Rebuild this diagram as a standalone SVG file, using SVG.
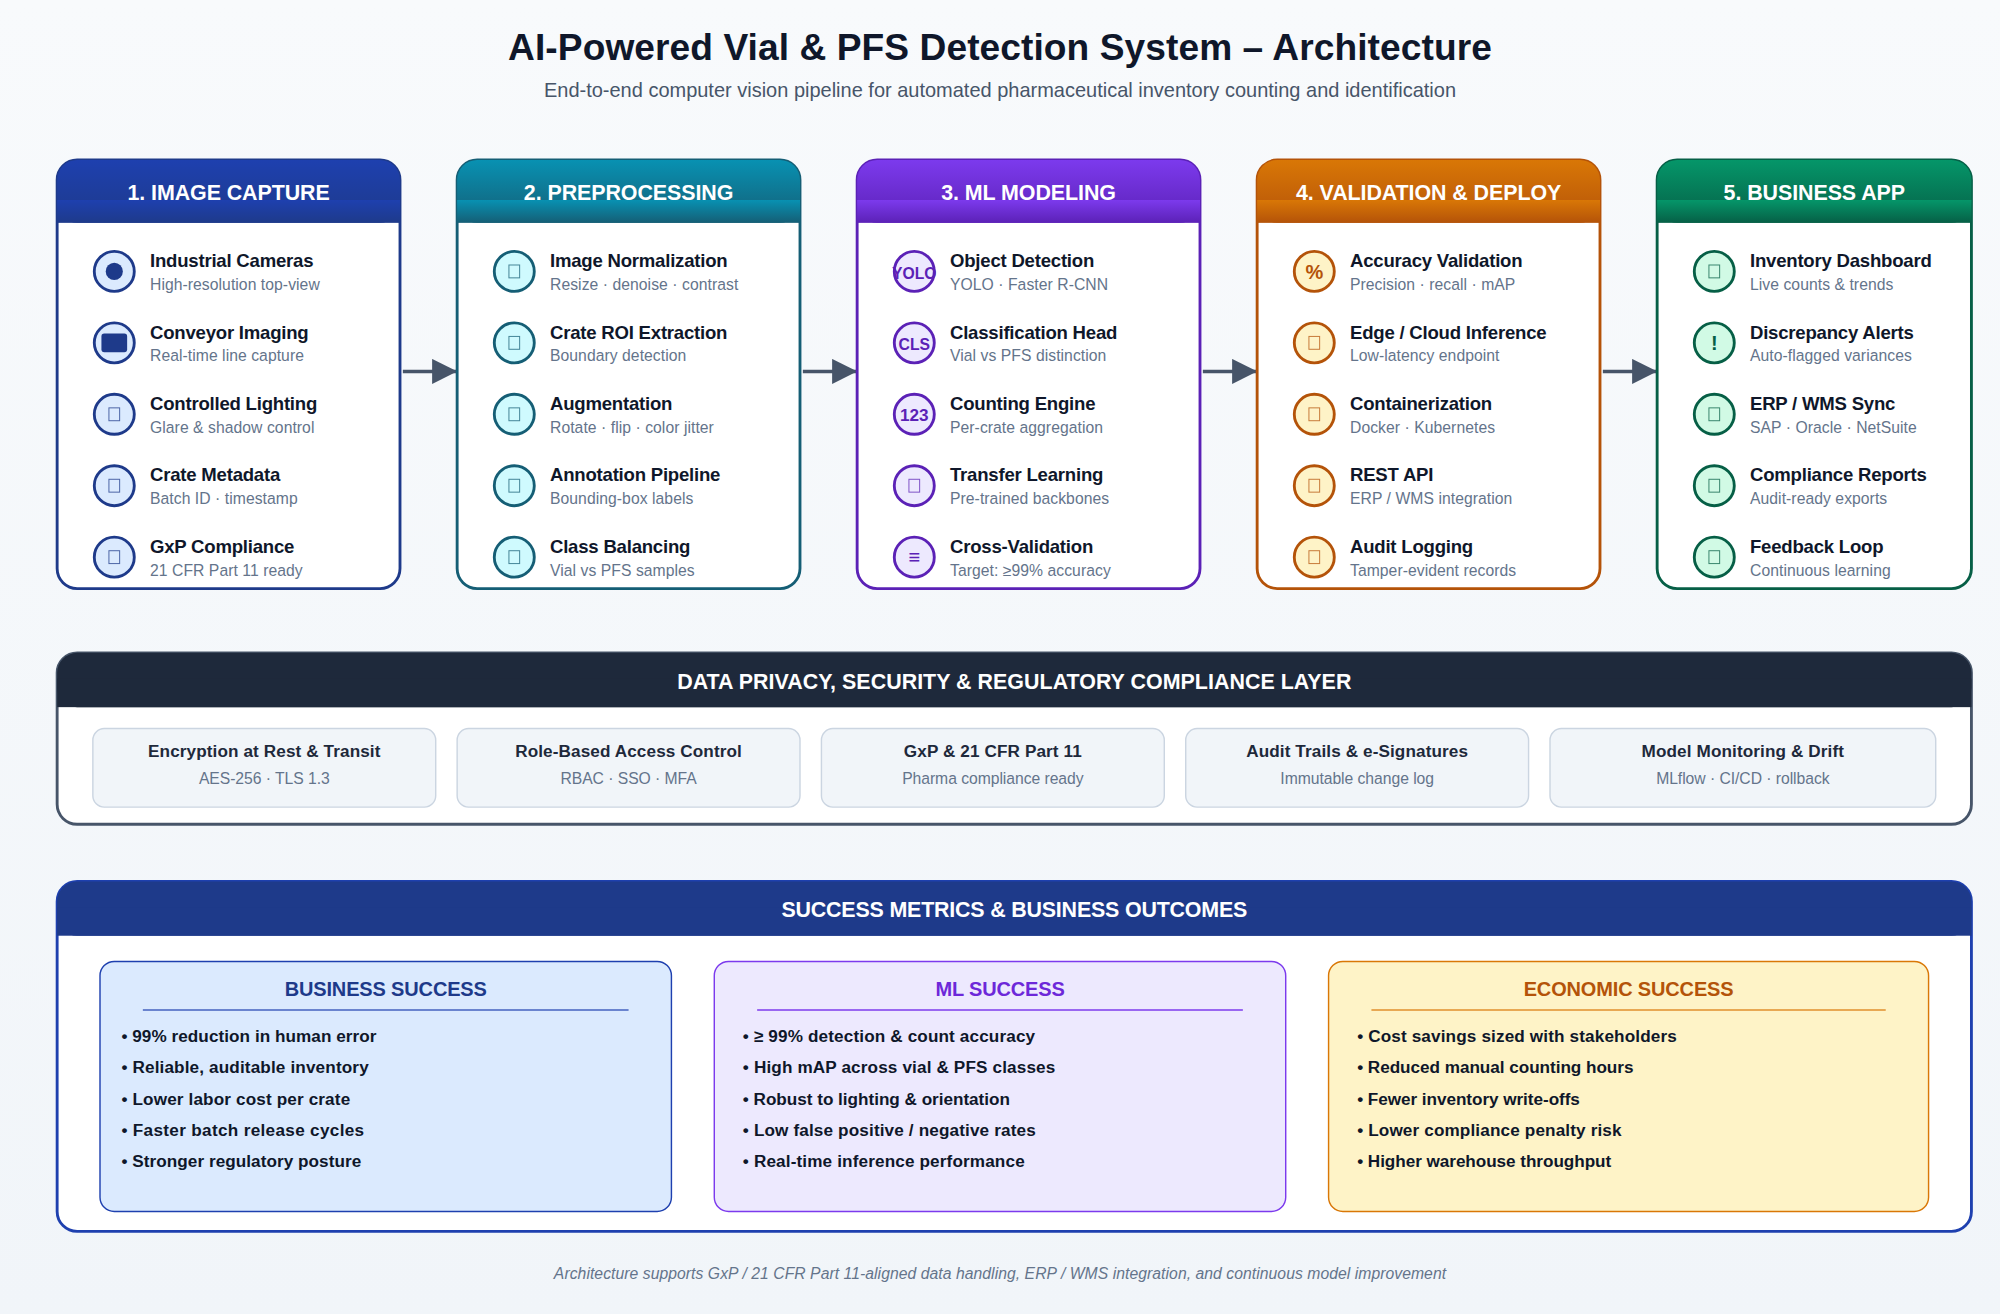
<svg xmlns="http://www.w3.org/2000/svg" width="2000" height="1314" viewBox="0 0 2000 1314">
<style>
text{font-family:"Liberation Sans",Arial,sans-serif}
.t{font-size:26px;letter-spacing:.05px;font-weight:700;fill:#0f172a;text-anchor:middle}
.st{font-size:14px;fill:#475569;text-anchor:middle}
.h{font-size:15px;letter-spacing:-.05px;font-weight:700;fill:#fff;text-anchor:middle}
.n{font-size:13px;letter-spacing:-.15px;font-weight:700;fill:#0f172a}
.d{font-size:11px;letter-spacing:.04px;fill:#64748b}
.i{font-size:14px;text-anchor:middle}
.b{font-weight:700}
.bar{font-size:15px;letter-spacing:.02px;font-weight:700;fill:#fff;text-anchor:middle}
.pn{font-size:12px;letter-spacing:.08px;font-weight:700;fill:#1e293b;text-anchor:middle}
.pd{font-size:11px;letter-spacing:-.03px;fill:#64748b;text-anchor:middle}
.pb{fill:#f1f5f9;stroke:#cbd5e1;stroke-width:1}
.mt{font-size:14px;letter-spacing:-.1px;font-weight:700;text-anchor:middle}
.ml{font-size:12px;letter-spacing:.1px;font-weight:700;fill:#0f172a}
.foot{font-size:11px;letter-spacing:.04px;font-style:italic;fill:#64748b;text-anchor:middle}
.tofu{fill:none;stroke-width:.7;opacity:.75}
.blue circle{fill:#dbeafe;stroke:#1e3a8a;stroke-width:2}.blue .i{fill:#1e3a8a}.blue .card,.blue .tofu{stroke:#1e3a8a}
.teal circle{fill:#cffafe;stroke:#155e75;stroke-width:2}.teal .i{fill:#155e75}.teal .card,.teal .tofu{stroke:#155e75}
.purple circle{fill:#ede9fe;stroke:#5b21b6;stroke-width:2}.purple .i{fill:#5b21b6}.purple .card,.purple .tofu{stroke:#5b21b6}
.amber circle{fill:#fef3c7;stroke:#b45309;stroke-width:2}.amber .i{fill:#b45309}.amber .card,.amber .tofu{stroke:#b45309}
.green circle{fill:#d1fae5;stroke:#065f46;stroke-width:2}.green .i{fill:#065f46}.green .card,.green .tofu{stroke:#065f46}
.card{fill:#fff;stroke-width:2}
.conn{stroke:#475569;stroke-width:2.5;fill:none;marker-end:url(#arr)}
</style>
<defs>
<linearGradient id="bg" x1="0" y1="0" x2="0" y2="1"><stop offset="0" stop-color="#f8fafc"/><stop offset="1" stop-color="#f1f5f9"/></linearGradient>
<linearGradient id="g1" x1="0" y1="0" x2="0" y2="1"><stop offset="0" stop-color="#1e40af"/><stop offset="1" stop-color="#1e3a8a"/></linearGradient>
<linearGradient id="g2" x1="0" y1="0" x2="0" y2="1"><stop offset="0" stop-color="#0891b2"/><stop offset="1" stop-color="#155e75"/></linearGradient>
<linearGradient id="g3" x1="0" y1="0" x2="0" y2="1"><stop offset="0" stop-color="#7c3aed"/><stop offset="1" stop-color="#5b21b6"/></linearGradient>
<linearGradient id="g4" x1="0" y1="0" x2="0" y2="1"><stop offset="0" stop-color="#d97706"/><stop offset="1" stop-color="#b45309"/></linearGradient>
<linearGradient id="g5" x1="0" y1="0" x2="0" y2="1"><stop offset="0" stop-color="#059669"/><stop offset="1" stop-color="#065f46"/></linearGradient>
<marker id="arr" markerUnits="strokeWidth" markerWidth="7" markerHeight="7" refX="7" refY="3.5" orient="auto"><path d="M0 0L7 3.5L0 7Z" fill="#475569"/></marker>
</defs>
<rect width="2000" height="1314" fill="url(#bg)"/>
<g transform="scale(1.428571)">
<text class="t" x="700" y="42">AI-Powered Vial &amp; PFS Detection System – Architecture</text>
<text class="st" x="700" y="68">End-to-end computer vision pipeline for automated pharmaceutical inventory counting and identification</text>

<g id="connectors">
<line class="conn" x1="282" y1="260" x2="320" y2="260"/>
<line class="conn" x1="562" y1="260" x2="600" y2="260"/>
<line class="conn" x1="842" y1="260" x2="880" y2="260"/>
<line class="conn" x1="1122" y1="260" x2="1160" y2="260"/>
</g>

<g id="stage-1" class="blue">
<rect class="card" x="40" y="112" width="240" height="300" rx="14"/>
<rect x="40" y="112" width="240" height="44" rx="14" fill="url(#g1)"/>
<text class="h" x="160" y="140">1. IMAGE CAPTURE</text>
<rect x="40" y="140" width="240" height="16" fill="url(#g1)"/>
<circle cx="80" cy="190" r="14"/><circle cx="80" cy="190" r="6" style="fill:#1e3a8a;stroke:none"/>
<text class="n" x="105" y="187">Industrial Cameras</text><text class="d" x="105" y="203">High-resolution top-view</text>
<circle cx="80" cy="240" r="14"/><rect x="71" y="233.5" width="18" height="13" rx="2" fill="#1e3a8a"/>
<text class="n" x="105" y="237">Conveyor Imaging</text><text class="d" x="105" y="253">Real-time line capture</text>
<circle cx="80" cy="290" r="14"/><rect class="tofu" x="76.25" y="285.5" width="7.5" height="9"/>
<text class="n" x="105" y="287">Controlled Lighting</text><text class="d" x="105" y="303">Glare &amp; shadow control</text>
<circle cx="80" cy="340" r="14"/><rect class="tofu" x="76.25" y="335.5" width="7.5" height="9"/>
<text class="n" x="105" y="337">Crate Metadata</text><text class="d" x="105" y="353">Batch ID · timestamp</text>
<circle cx="80" cy="390" r="14"/><rect class="tofu" x="76.25" y="385.5" width="7.5" height="9"/>
<text class="n" x="105" y="387">GxP Compliance</text><text class="d" x="105" y="403">21 CFR Part 11 ready</text>
</g>

<g id="stage-2" class="teal">
<rect class="card" x="320" y="112" width="240" height="300" rx="14"/>
<rect x="320" y="112" width="240" height="44" rx="14" fill="url(#g2)"/>
<text class="h" x="440" y="140">2. PREPROCESSING</text>
<rect x="320" y="140" width="240" height="16" fill="url(#g2)"/>
<circle cx="360" cy="190" r="14"/><rect class="tofu" x="356.25" y="185.5" width="7.5" height="9"/>
<text class="n" x="385" y="187">Image Normalization</text><text class="d" x="385" y="203">Resize · denoise · contrast</text>
<circle cx="360" cy="240" r="14"/><rect class="tofu" x="356.25" y="235.5" width="7.5" height="9"/>
<text class="n" x="385" y="237">Crate ROI Extraction</text><text class="d" x="385" y="253">Boundary detection</text>
<circle cx="360" cy="290" r="14"/><rect class="tofu" x="356.25" y="285.5" width="7.5" height="9"/>
<text class="n" x="385" y="287">Augmentation</text><text class="d" x="385" y="303">Rotate · flip · color jitter</text>
<circle cx="360" cy="340" r="14"/><rect class="tofu" x="356.25" y="335.5" width="7.5" height="9"/>
<text class="n" x="385" y="337">Annotation Pipeline</text><text class="d" x="385" y="353">Bounding-box labels</text>
<circle cx="360" cy="390" r="14"/><rect class="tofu" x="356.25" y="385.5" width="7.5" height="9"/>
<text class="n" x="385" y="387">Class Balancing</text><text class="d" x="385" y="403">Vial vs PFS samples</text>
</g>

<g id="stage-3" class="purple">
<rect class="card" x="600" y="112" width="240" height="300" rx="14"/>
<rect x="600" y="112" width="240" height="44" rx="14" fill="url(#g3)"/>
<text class="h" x="720" y="140">3. ML MODELING</text>
<rect x="600" y="140" width="240" height="16" fill="url(#g3)"/>
<circle cx="640" cy="190" r="14"/><text class="i b" style="font-size:11px" x="640" y="195">YOLO</text>
<text class="n" x="665" y="187">Object Detection</text><text class="d" x="665" y="203">YOLO · Faster R-CNN</text>
<circle cx="640" cy="240" r="14"/><text class="i b" style="font-size:11px" x="640" y="245">CLS</text>
<text class="n" x="665" y="237">Classification Head</text><text class="d" x="665" y="253">Vial vs PFS distinction</text>
<circle cx="640" cy="290" r="14"/><text class="i b" style="font-size:12px" x="640" y="295">123</text>
<text class="n" x="665" y="287">Counting Engine</text><text class="d" x="665" y="303">Per-crate aggregation</text>
<circle cx="640" cy="340" r="14"/><rect class="tofu" x="636.25" y="335.5" width="7.5" height="9"/>
<text class="n" x="665" y="337">Transfer Learning</text><text class="d" x="665" y="353">Pre-trained backbones</text>
<circle cx="640" cy="390" r="14"/><text class="i b" x="640" y="395">≡</text>
<text class="n" x="665" y="387">Cross-Validation</text><text class="d" x="665" y="403">Target: ≥99% accuracy</text>
</g>

<g id="stage-4" class="amber">
<rect class="card" x="880" y="112" width="240" height="300" rx="14"/>
<rect x="880" y="112" width="240" height="44" rx="14" fill="url(#g4)"/>
<text class="h" x="1000" y="140">4. VALIDATION &amp; DEPLOY</text>
<rect x="880" y="140" width="240" height="16" fill="url(#g4)"/>
<circle cx="920" cy="190" r="14"/><text class="i b" x="920" y="195">%</text>
<text class="n" x="945" y="187">Accuracy Validation</text><text class="d" x="945" y="203">Precision · recall · mAP</text>
<circle cx="920" cy="240" r="14"/><rect class="tofu" x="916.25" y="235.5" width="7.5" height="9"/>
<text class="n" x="945" y="237">Edge / Cloud Inference</text><text class="d" x="945" y="253">Low-latency endpoint</text>
<circle cx="920" cy="290" r="14"/><rect class="tofu" x="916.25" y="285.5" width="7.5" height="9"/>
<text class="n" x="945" y="287">Containerization</text><text class="d" x="945" y="303">Docker · Kubernetes</text>
<circle cx="920" cy="340" r="14"/><rect class="tofu" x="916.25" y="335.5" width="7.5" height="9"/>
<text class="n" x="945" y="337">REST API</text><text class="d" x="945" y="353">ERP / WMS integration</text>
<circle cx="920" cy="390" r="14"/><rect class="tofu" x="916.25" y="385.5" width="7.5" height="9"/>
<text class="n" x="945" y="387">Audit Logging</text><text class="d" x="945" y="403">Tamper-evident records</text>
</g>

<g id="stage-5" class="green">
<rect class="card" x="1160" y="112" width="220" height="300" rx="14"/>
<rect x="1160" y="112" width="220" height="44" rx="14" fill="url(#g5)"/>
<text class="h" x="1270" y="140">5. BUSINESS APP</text>
<rect x="1160" y="140" width="220" height="16" fill="url(#g5)"/>
<circle cx="1200" cy="190" r="14"/><rect class="tofu" x="1196.25" y="185.5" width="7.5" height="9"/>
<text class="n" x="1225" y="187">Inventory Dashboard</text><text class="d" x="1225" y="203">Live counts &amp; trends</text>
<circle cx="1200" cy="240" r="14"/><text class="i b" x="1200" y="245">!</text>
<text class="n" x="1225" y="237">Discrepancy Alerts</text><text class="d" x="1225" y="253">Auto-flagged variances</text>
<circle cx="1200" cy="290" r="14"/><rect class="tofu" x="1196.25" y="285.5" width="7.5" height="9"/>
<text class="n" x="1225" y="287">ERP / WMS Sync</text><text class="d" x="1225" y="303">SAP · Oracle · NetSuite</text>
<circle cx="1200" cy="340" r="14"/><rect class="tofu" x="1196.25" y="335.5" width="7.5" height="9"/>
<text class="n" x="1225" y="337">Compliance Reports</text><text class="d" x="1225" y="353">Audit-ready exports</text>
<circle cx="1200" cy="390" r="14"/><rect class="tofu" x="1196.25" y="385.5" width="7.5" height="9"/>
<text class="n" x="1225" y="387">Feedback Loop</text><text class="d" x="1225" y="403">Continuous learning</text>
</g>

<g id="privacy-layer">
<rect x="40" y="457" width="1340" height="120" rx="14" fill="#fff" stroke="#475569" stroke-width="2"/>
<rect x="40" y="457" width="1340" height="38" rx="14" fill="#1e293b"/>
<rect x="40" y="475" width="1340" height="20" fill="#1e293b"/>
<text class="bar" x="710" y="482">DATA PRIVACY, SECURITY &amp; REGULATORY COMPLIANCE LAYER</text>
<g id="privacy-1"><rect class="pb" x="65" y="510" width="240" height="55" rx="8"/><text class="pn" x="185" y="530">Encryption at Rest &amp; Transit</text><text class="pd" x="185" y="549">AES-256 · TLS 1.3</text></g>
<g id="privacy-2"><rect class="pb" x="320" y="510" width="240" height="55" rx="8"/><text class="pn" x="440" y="530">Role-Based Access Control</text><text class="pd" x="440" y="549">RBAC · SSO · MFA</text></g>
<g id="privacy-3"><rect class="pb" x="575" y="510" width="240" height="55" rx="8"/><text class="pn" x="695" y="530">GxP &amp; 21 CFR Part 11</text><text class="pd" x="695" y="549">Pharma compliance ready</text></g>
<g id="privacy-4"><rect class="pb" x="830" y="510" width="240" height="55" rx="8"/><text class="pn" x="950" y="530">Audit Trails &amp; e-Signatures</text><text class="pd" x="950" y="549">Immutable change log</text></g>
<g id="privacy-5"><rect class="pb" x="1085" y="510" width="270" height="55" rx="8"/><text class="pn" x="1220" y="530">Model Monitoring &amp; Drift</text><text class="pd" x="1220" y="549">MLflow · CI/CD · rollback</text></g>
</g>

<g id="metrics">
<rect x="40" y="617" width="1340" height="245" rx="14" fill="#fff" stroke="#1e40af" stroke-width="2"/>
<rect x="40" y="617" width="1340" height="38" rx="14" fill="#1e3a8a"/>
<rect x="40" y="635" width="1340" height="20" fill="#1e3a8a"/>
<text class="bar" style="letter-spacing:-.13px" x="710" y="642">SUCCESS METRICS &amp; BUSINESS OUTCOMES</text>
<g id="metric-business">
<rect x="70" y="673" width="400" height="175" rx="10" fill="#dbeafe" stroke="#1e40af" stroke-width="1"/>
<text class="mt" x="270" y="697" fill="#1e3a8a">BUSINESS SUCCESS</text>
<line x1="100" y1="707" x2="440" y2="707" stroke="#1e40af" stroke-opacity=".8" stroke-width="1"/>
<text class="ml" style="letter-spacing:.04px" x="85" y="729.2">• 99% reduction in human error</text>
<text class="ml" x="85" y="751.2">• Reliable, auditable inventory</text>
<text class="ml" x="85" y="773.2">• Lower labor cost per crate</text>
<text class="ml" style="letter-spacing:.23px" x="85" y="795.2">• Faster batch release cycles</text>
<text class="ml" style="letter-spacing:.04px" x="85" y="817.2">• Stronger regulatory posture</text>
</g>
<g id="metric-ml">
<rect x="500" y="673" width="400" height="175" rx="10" fill="#ede9fe" stroke="#7c3aed" stroke-width="1"/>
<text class="mt" x="700" y="697" fill="#6d28d9">ML SUCCESS</text>
<line x1="530" y1="707" x2="870" y2="707" stroke="#7c3aed" stroke-width="1"/>
<text class="ml" x="520" y="729.2">• ≥ 99% detection &amp; count accuracy</text>
<text class="ml" x="520" y="751.2">• High mAP across vial &amp; PFS classes</text>
<text class="ml" style="letter-spacing:-.01px" x="520" y="773.2">• Robust to lighting &amp; orientation</text>
<text class="ml" x="520" y="795.2">• Low false positive / negative rates</text>
<text class="ml" x="520" y="817.2">• Real-time inference performance</text>
</g>
<g id="metric-economic">
<rect x="930" y="673" width="420" height="175" rx="10" fill="#fef3c7" stroke="#d97706" stroke-width="1"/>
<text class="mt" x="1140" y="697" fill="#b45309">ECONOMIC SUCCESS</text>
<line x1="960" y1="707" x2="1320" y2="707" stroke="#d97706" stroke-opacity=".8" stroke-width="1"/>
<text class="ml" x="950" y="729.2">• Cost savings sized with stakeholders</text>
<text class="ml" style="letter-spacing:-.02px" x="950" y="751.2">• Reduced manual counting hours</text>
<text class="ml" style="letter-spacing:-.03px" x="950" y="773.2">• Fewer inventory write-offs</text>
<text class="ml" x="950" y="795.2">• Lower compliance penalty risk</text>
<text class="ml" style="letter-spacing:-.03px" x="950" y="817.2">• Higher warehouse throughput</text>
</g>
</g>
<text class="foot" x="700" y="895">Architecture supports GxP / 21 CFR Part 11-aligned data handling, ERP / WMS integration, and continuous model improvement</text>
</g>
</svg>
